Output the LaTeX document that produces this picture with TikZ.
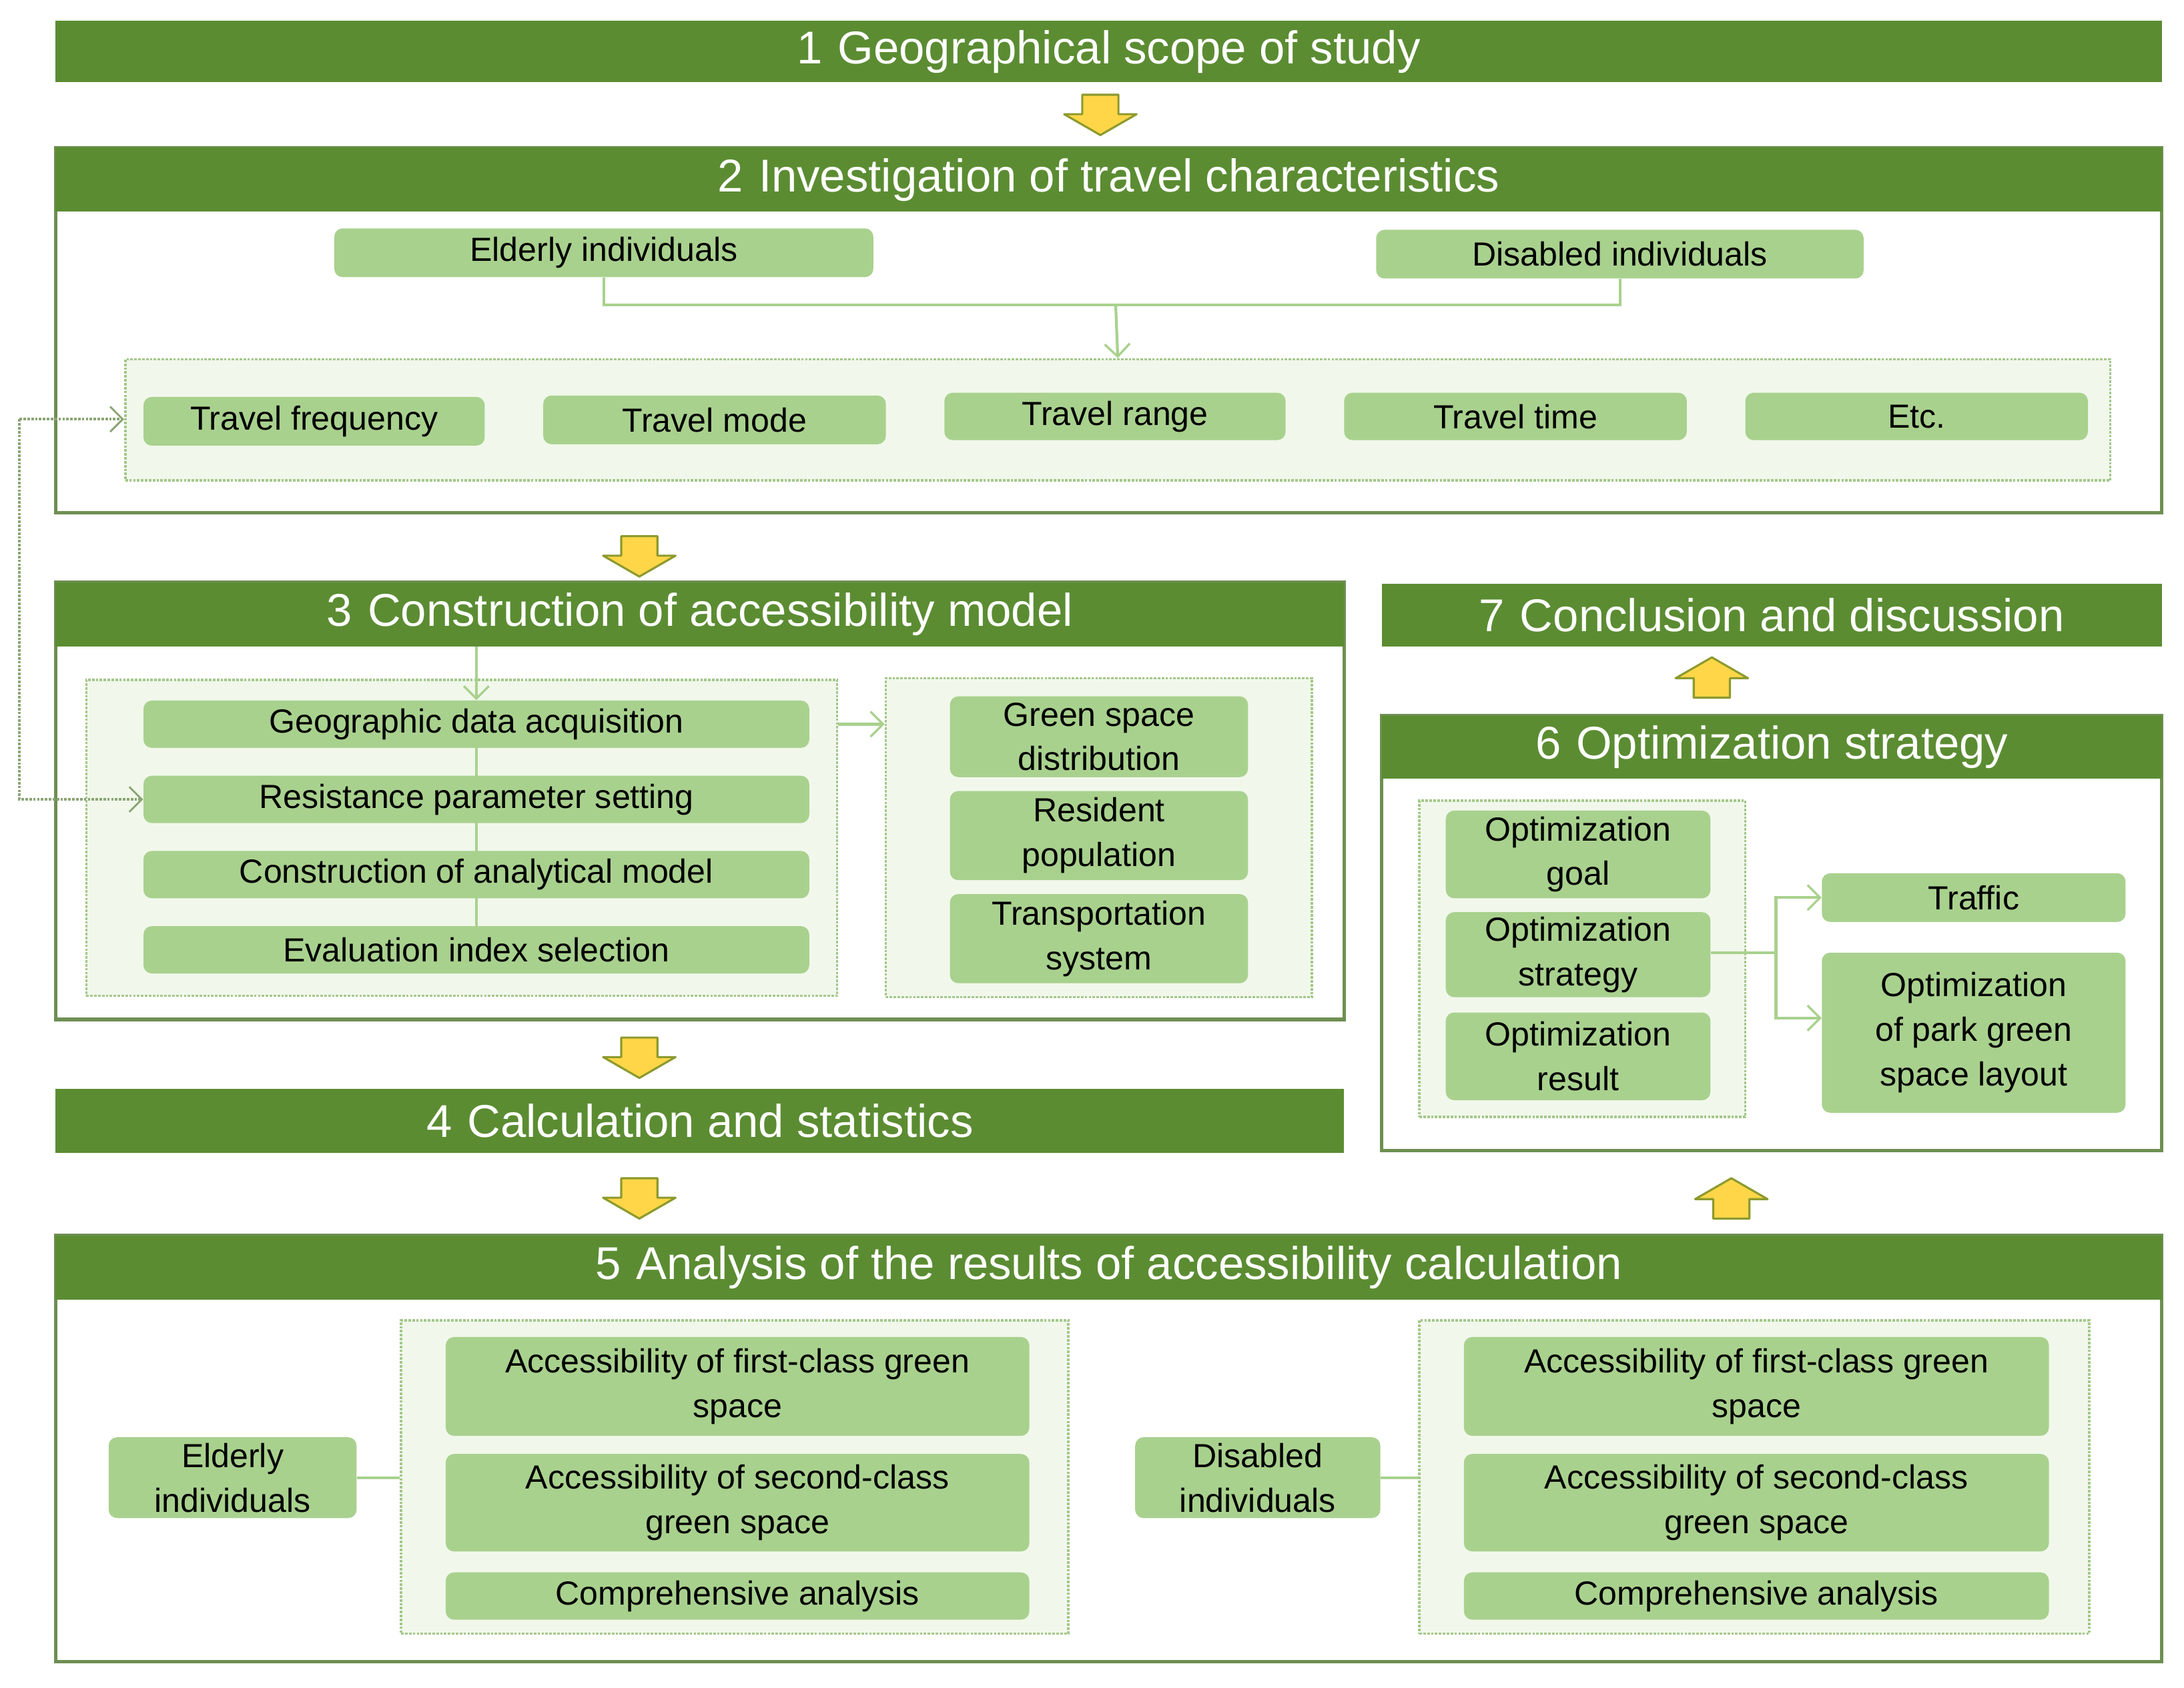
\documentclass[tikz,border=0pt]{standalone}
\usepackage{fontspec}
\setmainfont{Liberation Sans}
\usetikzlibrary{arrows.meta}
\definecolor{hdr}{HTML}{5B8C32}
\definecolor{frm}{HTML}{6E8F52}
\definecolor{lg}{HTML}{A9D18E}
\definecolor{grpfill}{HTML}{F1F8EB}
\definecolor{grpline}{HTML}{A3C78A}
\definecolor{arrfill}{HTML}{FFD648}
\definecolor{arrline}{HTML}{8C9A2E}
\newcommand\boxat[7]{\node[#2,minimum width={(#5-#3)*1pt},minimum height={(#6-#4)*1pt}] (#1) at ({(#3+#5)/2},{(#4+#6)/2}) {#7};}
\newcommand\blkdn[2]{\draw[arrline,line width=1.5pt,fill=arrfill,line join=round] (#1-13,#2) -- (#1+13,#2) -- (#1+13,#2+14) -- (#1+26,#2+14) -- (#1,#2+29) -- (#1-26,#2+14) -- (#1-13,#2+14) -- cycle;}
\newcommand\blkup[2]{\draw[arrline,line width=1.5pt,fill=arrfill,line join=round] (#1-13,#2+29) -- (#1+13,#2+29) -- (#1+13,#2+15) -- (#1+26,#2+15) -- (#1,#2) -- (#1-26,#2+15) -- (#1-13,#2+15) -- cycle;}
\tikzset{
  hd/.style={fill=hdr,draw=none,inner sep=0pt,text=white,font=\fontsize{33}{36}\selectfont},
  fr/.style={draw=frm,line width=2.5pt,fill=white,inner sep=0pt},
  bx/.style={fill=lg,draw=none,rounded corners=6pt,inner sep=0pt,align=center,font=\fontsize{24}{32}\selectfont},
  grp/.style={draw=grpline,densely dotted,line width=1.8pt,fill=grpfill,inner sep=0pt},
  ln/.style={draw=lg,line width=2pt},
  ar/.style={ln,-{Straight Barb[length=9pt,width=18pt,line width=1.6pt]}},
  fb/.style={draw=frm!80,densely dotted,line width=1.8pt}
}
\begin{document}
\begin{tikzpicture}[x=1pt,y=-1pt]
\useasboundingbox (0,0) rectangle (1568,1212);
\fill[white] (0,0) rectangle (1568,1212);
% 1
\boxat{h1}{hd}{40}{15}{1552}{59}{1\,\,Geographical scope of study}
\blkdn{790}{68}
% 2
\boxat{f2}{fr}{40}{106}{1552}{368}{}
\boxat{h2}{hd}{40}{106}{1552}{152}{2\,\,Investigation of travel characteristics}
\boxat{e2}{bx}{240}{164}{627}{199}{Elderly individuals}
\boxat{d2}{bx}{988}{165}{1338}{200}{Disabled individuals}
\boxat{g2}{grp}{90}{258}{1515}{345}{}
\boxat{tf}{bx}{103}{285}{348}{320}{Travel frequency}
\boxat{tm}{bx}{390}{284}{636}{319}{Travel mode}
\boxat{tr}{bx}{678}{282}{923}{316}{Travel range}
\boxat{tt}{bx}{965}{282}{1211}{316}{Travel time}
\boxat{te}{bx}{1253}{282}{1499}{316}{Etc.}
\coordinate (j2) at (801,219);
\draw[ln] (e2.south) |- (j2) -| (d2.south);
\draw[ar] (j2) -- (g2.north);
\blkdn{459}{385}
% 3
\boxat{f3}{fr}{40}{418}{965}{732}{}
\boxat{h3}{hd}{40}{418}{965}{464}{3\,\,Construction of accessibility model}
\boxat{g3}{grp}{62}{488}{601}{715}{}
\boxat{g3r}{grp}{636}{487}{942}{716}{}
\draw[ln] (342,503) -- (342,699);
\boxat{gda}{bx}{103}{503}{581}{537}{Geographic data acquisition}
\boxat{rps}{bx}{103}{557}{581}{591}{Resistance parameter setting}
\boxat{cam}{bx}{103}{611}{581}{645}{Construction of analytical model}
\boxat{eis}{bx}{103}{665}{581}{699}{Evaluation index selection}
\draw[ar] (h3.south -| gda.north) -- (gda.north);
\boxat{gsd}{bx}{682}{500}{896}{558}{Green space\\distribution}
\boxat{rp}{bx}{682}{568}{896}{632}{Resident\\population}
\boxat{ts}{bx}{682}{642}{896}{706}{Transportation\\system}
\draw[ar] (g3.east |- gda.east) -- (g3r.west |- gda.east);
% feedback
\coordinate (fbt) at (14,301);
\coordinate (fbb) at (14,574);
\draw[fb,-{Straight Barb[length=9pt,width=18pt,line width=1.4pt]}] (fbt) -- (g2.west |- fbt);
\draw[fb,-{Straight Barb[length=9pt,width=18pt,line width=1.4pt]}] (fbt) -- (fbb) -- (rps.west |- fbb);
\blkdn{459}{745}
% 4
\boxat{h4}{hd}{40}{782}{965}{828}{4\,\,Calculation and statistics}
\blkdn{459}{846}
% 5
\boxat{f5}{fr}{40}{887}{1552}{1193}{}
\boxat{h5}{hd}{40}{887}{1552}{933}{5\,\,Analysis of the results of accessibility calculation}
\boxat{g5l}{grp}{288}{948}{767}{1173}{}
\boxat{a1}{bx}{320}{960}{739}{1031}{Accessibility of first-class green\\space}
\boxat{a2}{bx}{320}{1044}{739}{1114}{Accessibility of second-class\\green space}
\boxat{ca}{bx}{320}{1129}{739}{1163}{Comprehensive analysis}
\boxat{e5}{bx}{78}{1032}{256}{1090}{Elderly\\individuals}
\draw[ln] (e5.east) -- (g5l.west |- e5.east);
\boxat{g5r}{grp}{1019}{948}{1500}{1173}{}
\boxat{b1}{bx}{1051}{960}{1471}{1031}{Accessibility of first-class green\\space}
\boxat{b2}{bx}{1051}{1044}{1471}{1114}{Accessibility of second-class\\green space}
\boxat{cb}{bx}{1051}{1129}{1471}{1163}{Comprehensive analysis}
\boxat{d5}{bx}{815}{1032}{991}{1090}{Disabled\\individuals}
\draw[ln] (d5.east) -- (g5r.west |- d5.east);
\blkup{1243}{846}
% 6
\boxat{f6}{fr}{992}{514}{1552}{826}{}
\boxat{h6}{hd}{992}{514}{1552}{559}{6\,\,Optimization strategy}
\boxat{g6}{grp}{1019}{575}{1253}{802}{}
\boxat{og}{bx}{1038}{582}{1228}{645}{Optimization\\goal}
\boxat{os}{bx}{1038}{655}{1228}{716}{Optimization\\strategy}
\boxat{or}{bx}{1038}{727}{1228}{790}{Optimization\\result}
\boxat{tra}{bx}{1308}{627}{1526}{662}{Traffic}
\boxat{opg}{bx}{1308}{684}{1526}{799}{Optimization\\of park green\\space layout}
\coordinate (j6) at (1275,684);
\draw[ln] (os.east |- j6) -- (j6);
\draw[ar] (j6) |- (tra.west);
\draw[ar] (j6) |- (opg.west |- 0,731);
\blkup{1229}{472}
% 7
\boxat{h7}{hd}{992}{419}{1552}{464}{7\,\,Conclusion and discussion}
\end{tikzpicture}
\end{document}
